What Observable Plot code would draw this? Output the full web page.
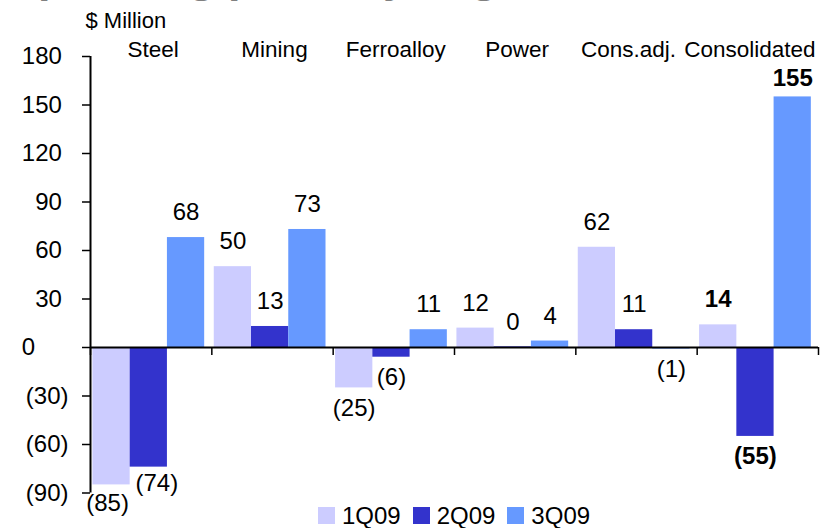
<!DOCTYPE html>
<html>
<head>
<meta charset="utf-8">
<script src="https://cdn.jsdelivr.net/npm/d3@7"></script>
<script src="https://cdn.jsdelivr.net/npm/@observablehq/plot@0.6"></script>
<style>
html, body { margin: 0; padding: 0; background: #fff; }
body { width: 830px; height: 528px; overflow: hidden; position: relative; font-family: "Liberation Sans", Arial, sans-serif; }
#title { position: absolute; z-index: 2; left: 3px; top: -46px; font-size: 45px; line-height: 45px; font-weight: bold; color: #808080; white-space: nowrap; }
#chart { position: absolute; left: 0; top: 0; z-index: 1; }
#chart svg { overflow: visible; }
#legend { position: absolute; z-index: 1; left: 90px; width: 728px; top: 503px; height: 25px; display: flex; justify-content: center; align-items: center; font-size: 24px; color: #000; line-height: 25px; }
#legend .item { display: flex; align-items: center; margin: 0 6px; }
#legend .sw { width: 17px; height: 17px; margin-right: 7px; }
</style>
</head>
<body>
<div id="chart"></div>
<div id="legend"></div>
<div id="title">Operating profit by segment</div>
<script>
// ---- data ----
const categories = ["Steel", "Mining", "Ferroalloy", "Power", "Cons.adj.", "Consolidated"];
const series = ["1Q09", "2Q09", "3Q09"];
const q1_09 = [-85, 50, -25, 12, 62, 14];
const q2_09 = [-74, 13, -6, 0.4, 11, -55];
const q3_09 = [68, 73, 11, 4, -1, 155];
const yTicks = [-90, -60, -30, 0, 30, 60, 90, 120, 150, 180];
const unitLabel = "$ Million";
const boldCategory = "Consolidated";

// ---- styling ----
const colors = ["#CCCCFF", "#3333CC", "#6699FF"];
const barOffset = 0.02, barW = 0.307;
const font = "Liberation Sans, Arial, sans-serif";

const seriesValues = [q1_09, q2_09, q3_09];
const rows = [];
categories.forEach((cat, ci) => {
  series.forEach((s, si) => {
    rows.push({cat, ci, series: s, si, value: seriesValues[si][ci]});
  });
});
const bx1 = d => d.ci + barOffset + d.si * barW;
const bx2 = d => d.ci + barOffset + (d.si + 1) * barW;
const bmid = d => d.ci + barOffset + (d.si + 0.5) * barW;
const fmtVal = v => v < 0 ? `(${Math.round(-v)})` : `${Math.round(v)}`;
const nb = "\u00A0";
const fmtTick = v => v < 0 ? `(${-v})` : v === 0 ? "0" + nb.repeat(5) : `${v}` + nb;

function labels(filter, opts) {
  return Plot.text(rows, {
    filter,
    x: bmid,
    y: "value",
    text: d => fmtVal(d.value),
    lineAnchor: "middle",
    textAnchor: "middle",
    fontSize: 24,
    fill: "#000",
    ...opts
  });
}

const isBold = d => d.cat === boldCategory;
const catRows = categories.map((c, i) => ({c, i}));

const chart = Plot.plot({
  width: 830,
  height: 505,
  marginLeft: 90,
  marginRight: 12,
  marginTop: 56,
  marginBottom: 12.5,
  x: {domain: [0, categories.length], axis: null},
  y: {domain: [yTicks[0], yTicks[yTicks.length - 1]], axis: null},
  color: {domain: series, range: colors},
  style: {fontFamily: font, fontSize: "24px", color: "#000", background: "white", overflow: "visible"},
  marks: [
    Plot.rectY(rows, {x1: bx1, x2: bx2, y1: 0, y2: "value", fill: "series"}),
    // y axis
    Plot.axisY({ticks: yTicks, tickSize: 8, tickPadding: 14, tickFormat: fmtTick, fontSize: 24, label: null, strokeWidth: 1.5, stroke: "#000"}),
    Plot.ruleX([0], {y1: yTicks[0], y2: yTicks[yTicks.length - 1], stroke: "#000", strokeWidth: 2}),
    // zero baseline with category dividers
    Plot.ruleY([0], {stroke: "#000", strokeWidth: 2}),
    Plot.ruleX(d3.range(categories.length + 1), {x: d => d, y1: 0, y2: 0, insetBottom: -8, stroke: "#000", strokeWidth: 1.5}),
    // category labels
    Plot.text(catRows, {filter: d => d.i < 4, x: d => d.i + 0.5, text: "c", frameAnchor: "top", lineAnchor: "middle", dy: -7, dx: 2, fontSize: 22.5, fill: "#000"}),
    Plot.text(catRows, {filter: d => d.i >= 4, x: d => d.i + 0.5, text: "c", frameAnchor: "top", lineAnchor: "middle", dy: -7, dx: -8, fontSize: 22.5, fill: "#000"}),
    // unit label
    Plot.text([unitLabel], {frameAnchor: "top-left", textAnchor: "start", lineAnchor: "middle", dx: -5, dy: -36, fontSize: 22, fill: "#000"}),
    // value labels
    labels(d => d.value >= 0 && !isBold(d), {dy: -25}),
    labels(d => d.value >= 0 && isBold(d) && d.value < 100, {dy: -26, fontWeight: "bold"}),
    labels(d => d.value >= 0 && isBold(d) && d.value >= 100, {dy: -19, fontWeight: "bold"}),
    labels(d => d.value < 0 && !isBold(d) && !(d.ci === 0), {dy: 20}),
    labels(d => d.value < 0 && d.ci === 0 && d.si === 0, {dy: 18, dx: -4}),
    labels(d => d.value < 0 && d.ci === 0 && d.si === 1, {dy: 16, dx: 8}),
    labels(d => d.value < 0 && isBold(d), {dy: 20, fontWeight: "bold"})
  ]
});
document.getElementById("chart").appendChild(chart);

const legend = document.getElementById("legend");
series.forEach((s, i) => {
  const item = document.createElement("div");
  item.className = "item";
  const sw = document.createElement("div");
  sw.className = "sw";
  sw.style.background = colors[i];
  const t = document.createElement("span");
  t.textContent = s;
  item.appendChild(sw);
  item.appendChild(t);
  legend.appendChild(item);
});
</script>
</body>
</html>
